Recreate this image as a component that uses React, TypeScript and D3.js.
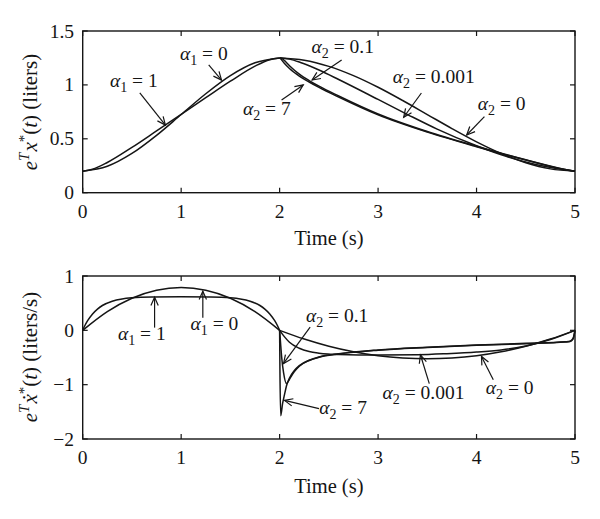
import React from 'react';
import * as d3 from 'd3';

// ---------- ticks ----------
const timeTicks = [0, 1, 2, 3, 4, 5];
const timeTickLabels = ['0', '1', '2', '3', '4', '5'];
const topYTicks = [0, 0.5, 1, 1.5];
const topYTickLabels = ['0', '0.5', '1', '1.5'];
const botYTicks = [-2, -1, 0, 1];
const botYTickLabels = ['\u22122', '\u22121', '0', '1'];

// ---------- top panel: e^T x*(t) ----------
const topA1_0_t = [0, 0.25, 0.5, 0.75, 1, 1.25, 1.5, 1.75, 2];
const topA1_0_v = [0.2, 0.245, 0.364, 0.532, 0.725, 0.918, 1.086, 1.205, 1.25];
const topA1_1_t = [0, 0.1, 0.25, 0.5, 0.75, 1, 1.25, 1.5, 1.75, 1.9, 2];
const topA1_1_v = [0.2, 0.217, 0.28, 0.42, 0.573, 0.727, 0.881, 1.034, 1.174, 1.234, 1.25];
const topA2_0_t = [2, 2.25, 2.5, 2.75, 3, 3.25, 3.5, 3.75, 4, 4.25, 4.5, 4.75, 5];
const topA2_0_v = [1.25, 1.229, 1.172, 1.086, 0.978, 0.855, 0.725, 0.595, 0.472, 0.364, 0.278, 0.221, 0.2];
const topA2_0001_t = [2, 2.1, 2.2, 2.3, 2.4, 2.6, 3, 3.3, 3.6, 4, 4.3, 4.6, 5];
const topA2_0001_v = [1.25, 1.239, 1.212, 1.177, 1.138, 1.05, 0.865, 0.725, 0.59, 0.435, 0.337, 0.262, 0.2];
const topA2_01_t = [2, 2.02, 2.05, 2.1, 2.2, 2.3, 2.4, 2.6, 3, 3.5, 4, 4.5, 4.9, 5];
const topA2_01_v = [1.25, 1.247, 1.225, 1.178, 1.1, 1.04, 0.988, 0.897, 0.73, 0.567, 0.431, 0.305, 0.216, 0.2];
const topA2_7_t = [2, 2.01, 2.02, 2.05, 2.1, 2.2, 2.3, 2.4, 2.6, 3, 3.5, 4, 4.5, 4.9, 5];
const topA2_7_v = [1.25, 1.244, 1.232, 1.198, 1.152, 1.082, 1.027, 0.977, 0.887, 0.722, 0.562, 0.427, 0.303, 0.215, 0.2];

// ---------- bottom panel: e^T x*'(t) ----------
const botA1_0_t = [0, 0.25, 0.5, 0.75, 1, 1.25, 1.5, 1.75, 2];
const botA1_0_v = [0, 0.344, 0.591, 0.738, 0.788, 0.738, 0.591, 0.344, 0];
const botA1_1_t = [0, 0.02, 0.05, 0.1, 0.15, 0.2, 0.3, 0.4, 0.5, 0.7, 1, 1.3, 1.5, 1.6, 1.7, 1.8, 1.85, 1.9, 1.95, 1.98, 2];
const botA1_1_v = [0, 0.079, 0.177, 0.302, 0.391, 0.457, 0.536, 0.577, 0.598, 0.614, 0.618, 0.614, 0.598, 0.577, 0.536, 0.457, 0.391, 0.302, 0.177, 0.079, 0];
const botA2_0_t = [2, 2.25, 2.5, 2.75, 3, 3.25, 3.5, 3.75, 4, 4.25, 4.5, 4.75, 5];
const botA2_0_v = [0, -0.16, -0.292, -0.394, -0.467, -0.51, -0.525, -0.51, -0.467, -0.394, -0.292, -0.16, 0];
const botA2_0001_t = [2, 2.05, 2.1, 2.2, 2.3, 2.4, 2.6, 3, 3.4, 3.7, 4, 4.25, 4.5, 4.75, 5];
const botA2_0001_v = [0, -0.12, -0.22, -0.33, -0.39, -0.42, -0.445, -0.455, -0.45, -0.43, -0.4, -0.36, -0.29, -0.17, 0];
const botA2_01_t = [2, 2.01, 2.02, 2.04, 2.07, 2.1, 2.15, 2.2, 2.3, 2.4, 2.6, 3, 3.5, 4, 4.5, 4.9, 4.95, 4.98, 5];
const botA2_01_v = [0, -0.25, -0.48, -0.78, -0.98, -0.9, -0.76, -0.66, -0.555, -0.495, -0.435, -0.365, -0.315, -0.275, -0.245, -0.215, -0.205, -0.16, 0];
const botA2_7_t = [2, 2.003, 2.011, 2.03, 2.05, 2.07, 2.1, 2.15, 2.2, 2.3, 2.4, 2.6, 3, 3.5, 4, 4.5, 4.9, 4.95, 4.98, 5];
const botA2_7_v = [0, -0.7, -1.57, -1.35, -1.18, -1.02, -0.88, -0.74, -0.65, -0.55, -0.49, -0.43, -0.36, -0.31, -0.27, -0.24, -0.21, -0.2, -0.15, 0];

// ---------- annotations (data coords) ----------
type Ann = { sub: string; val: string; tx: number; ty: number; ax: number; ay: number; bx: number; by: number };
const topAnns: Ann[] = [
  { sub: '1', val: '1', tx: 0.277, ty: 0.98, ax: 0.58, ay: 0.925, bx: 0.84, by: 0.628 },
  { sub: '1', val: '0', tx: 0.988, ty: 1.231, ax: 1.28, ay: 1.185, bx: 1.41, by: 1.045 },
  { sub: '2', val: '7', tx: 1.627, ty: 0.721, ax: 2.02, ay: 0.86, bx: 2.24, by: 1.0 },
  { sub: '2', val: '0.1', tx: 2.325, ty: 1.293, ax: 2.63, ay: 1.23, bx: 2.33, by: 1.045 },
  { sub: '2', val: '0.001', tx: 3.15, ty: 1.015, ax: 3.44, ay: 0.925, bx: 3.26, by: 0.7 },
  { sub: '2', val: '0', tx: 4.013, ty: 0.767, ax: 4.08, ay: 0.705, bx: 3.9, by: 0.535 },
];
const botAnns: Ann[] = [
  { sub: '1', val: '1', tx: 0.358, ty: -0.184, ax: 0.73, ay: 0.05, bx: 0.73, by: 0.61 },
  { sub: '1', val: '0', tx: 1.096, ty: 0.013, ax: 1.22, ay: 0.23, bx: 1.22, by: 0.72 },
  { sub: '2', val: '0.1', tx: 2.267, ty: 0.153, ax: 2.31, ay: 0.06, bx: 2.04, by: -0.61 },
  { sub: '2', val: '7', tx: 2.402, ty: -1.533, ax: 2.4, ay: -1.44, bx: 2.05, by: -1.29 },
  { sub: '2', val: '0.001', tx: 3.046, ty: -1.257, ax: 3.52, ay: -0.98, bx: 3.43, by: -0.45 },
  { sub: '2', val: '0', tx: 4.094, ty: -1.165, ax: 4.17, ay: -0.91, bx: 4.05, by: -0.48 },
];

const W = 600, H = 519;
const FONT = '"Liberation Serif", "Times New Roman", serif';
const FS = 19.5;
const INK = '#151515';

const x = d3.scaleLinear().domain([0, 5]).range([82.7, 575]);
const yTop = d3.scaleLinear().domain([0, 1.5]).range([192.7, 31]);
const yBot = d3.scaleLinear().domain([-2, 1]).range([439, 276]);

function zip(t: number[], v: number[]): [number, number][] {
  return t.map((d, i) => [d, v[i]]);
}

function Panel({ y, yTicks, yLabels, series, anns, tickBase, titleBase, ylabel }: any) {
  const [y0, y1] = y.range();
  const x0 = x.range()[0], x1 = x.range()[1];
  const line = d3.line<[number, number]>().x(d => x(d[0])).y(d => y(d[1])).curve(d3.curveMonotoneX);
  const TL = 5;
  return (
    <g>
      {series.map((s: [number, number][], i: number) => (
        <path key={i} d={line(s) || ''} fill="none" stroke={INK} strokeWidth={1.5} strokeLinejoin="round" />
      ))}
      <rect x={x0} y={y1} width={x1 - x0} height={y0 - y1} fill="none" stroke={INK} strokeWidth={1.4} />
      {timeTicks.map((t, i) => (
        <g key={'xt' + i}>
          <line x1={x(t)} x2={x(t)} y1={y0} y2={y0 - TL} stroke={INK} strokeWidth={1.2} />
          <line x1={x(t)} x2={x(t)} y1={y1} y2={y1 + TL} stroke={INK} strokeWidth={1.2} />
          <text x={x(t)} y={tickBase} textAnchor="middle" fontFamily={FONT} fontSize={FS} fill={INK}>{timeTickLabels[i]}</text>
        </g>
      ))}
      {yTicks.map((v: number, i: number) => (
        <g key={'yt' + i}>
          <line x1={x0} x2={x0 + TL} y1={y(v)} y2={y(v)} stroke={INK} strokeWidth={1.2} />
          <line x1={x1} x2={x1 - TL} y1={y(v)} y2={y(v)} stroke={INK} strokeWidth={1.2} />
          <text x={74} y={y(v) + 6.5} textAnchor="end" fontFamily={FONT} fontSize={FS} fill={INK}>{yLabels[i]}</text>
        </g>
      ))}
      <text x={(x0 + x1) / 2} y={titleBase} textAnchor="middle" fontFamily={FONT} fontSize={20.5} fill={INK}>Time (s)</text>
      {ylabel}
      {anns.map((a: Ann, i: number) => {
        const ax = x(a.ax), ay = y(a.ay), bx = x(a.bx), by = y(a.by);
        const ang = Math.atan2(by - ay, bx - ax);
        const L = 9, h = 0.42;
        const p1 = [bx - L * Math.cos(ang - h), by - L * Math.sin(ang - h)];
        const p2 = [bx - L * Math.cos(ang + h), by - L * Math.sin(ang + h)];
        return (
          <g key={'a' + i}>
            <line x1={ax} y1={ay} x2={bx} y2={by} stroke={INK} strokeWidth={1.2} />
            <polyline points={`${p1[0]},${p1[1]} ${bx},${by} ${p2[0]},${p2[1]}`} fill="none" stroke={INK} strokeWidth={1.2} />
            <text x={x(a.tx)} y={y(a.ty)} fontFamily={FONT} fontSize={FS} fill={INK}>
              <tspan fontStyle="italic">α</tspan>
              <tspan fontSize={14} dy={5}>{a.sub}</tspan>
              <tspan dy={-5}>{' = ' + a.val}</tspan>
            </text>
          </g>
        );
      })}
    </g>
  );
}

function YLabel({ cx, cy, dot, unit }: { cx: number; cy: number; dot: boolean; unit: string }) {
  return (
    <text transform={`translate(${cx},${cy}) rotate(-90)`} textAnchor="middle" fontFamily={FONT} fontSize={21} fill={INK}>
      <tspan fontStyle="italic">e</tspan>
      <tspan fontStyle="italic" fontSize={15} dy={-8}>T</tspan>
      <tspan fontStyle="italic" dy={8} dx={1}>{dot ? '\u1E8B' : 'x'}</tspan>
      <tspan fontSize={15} dy={-8}>*</tspan>
      <tspan dy={8}>(</tspan>
      <tspan fontStyle="italic">t</tspan>
      <tspan>{')\u00A0(' + unit + ')'}</tspan>
    </text>
  );
}

export default function App() {
  const topSeries = [
    zip(topA1_0_t, topA1_0_v), zip(topA1_1_t, topA1_1_v),
    zip(topA2_0_t, topA2_0_v), zip(topA2_0001_t, topA2_0001_v),
    zip(topA2_01_t, topA2_01_v), zip(topA2_7_t, topA2_7_v),
  ];
  const botSeries = [
    zip(botA1_0_t, botA1_0_v), zip(botA1_1_t, botA1_1_v),
    zip(botA2_0_t, botA2_0_v), zip(botA2_0001_t, botA2_0001_v),
    zip(botA2_01_t, botA2_01_v), zip(botA2_7_t, botA2_7_v),
  ];
  return (
    <svg width={W} height={H} viewBox={`0 0 ${W} ${H}`} style={{ position: 'absolute', left: 0, top: 0, background: '#fff' }}>
      <rect x={0} y={0} width={W} height={H} fill="#fff" />
      <Panel y={yTop} yTicks={topYTicks} yLabels={topYTickLabels} series={topSeries} anns={topAnns}
        tickBase={218} titleBase={245} ylabel={<YLabel cx={37} cy={112} dot={false} unit="liters" />} />
      <Panel y={yBot} yTicks={botYTicks} yLabels={botYTickLabels} series={botSeries} anns={botAnns}
        tickBase={464} titleBase={493} ylabel={<YLabel cx={37} cy={357} dot={true} unit="liters/s" />} />
    </svg>
  );
}
